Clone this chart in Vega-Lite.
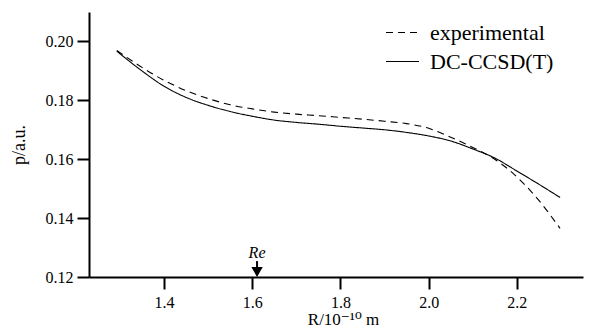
{
  "$schema": "https://vega.github.io/schema/vega-lite/v6.json",
  "width": 494,
  "height": 265,
  "autosize": "none",
  "padding": {"left": 89, "top": 12, "right": 22, "bottom": 56},
  "background": "white",
  "config": {
    "view": {"stroke": null},
    "font": "Liberation Serif, DejaVu Serif, serif",
    "axis": {
      "domainColor": "black", "domainWidth": 2, "tickColor": "black", "tickWidth": 2, "tickSize": 12,
      "labelColor": "black", "labelFont": "Liberation Serif, DejaVu Serif, serif", "labelFontSize": 16,
      "titleColor": "black", "titleFont": "Liberation Serif, DejaVu Serif, serif", "titleFontWeight": "normal", "titleFontSize": 18,
      "grid": false
    }
  },
  "datasets": {
    "curves": [
      {"R": 1.293, "p": 0.1967, "series": "DC-CCSD(T)"},
      {"R": 1.35, "p": 0.1900, "series": "DC-CCSD(T)"},
      {"R": 1.40, "p": 0.1848, "series": "DC-CCSD(T)"},
      {"R": 1.45, "p": 0.1810, "series": "DC-CCSD(T)"},
      {"R": 1.50, "p": 0.1783, "series": "DC-CCSD(T)"},
      {"R": 1.55, "p": 0.1762, "series": "DC-CCSD(T)"},
      {"R": 1.60, "p": 0.1746, "series": "DC-CCSD(T)"},
      {"R": 1.65, "p": 0.1733, "series": "DC-CCSD(T)"},
      {"R": 1.70, "p": 0.1725, "series": "DC-CCSD(T)"},
      {"R": 1.75, "p": 0.1719, "series": "DC-CCSD(T)"},
      {"R": 1.80, "p": 0.1712, "series": "DC-CCSD(T)"},
      {"R": 1.85, "p": 0.1706, "series": "DC-CCSD(T)"},
      {"R": 1.90, "p": 0.1700, "series": "DC-CCSD(T)"},
      {"R": 1.95, "p": 0.1691, "series": "DC-CCSD(T)"},
      {"R": 2.00, "p": 0.1679, "series": "DC-CCSD(T)"},
      {"R": 2.05, "p": 0.1662, "series": "DC-CCSD(T)"},
      {"R": 2.10, "p": 0.1635, "series": "DC-CCSD(T)"},
      {"R": 2.15, "p": 0.1604, "series": "DC-CCSD(T)"},
      {"R": 2.20, "p": 0.1560, "series": "DC-CCSD(T)"},
      {"R": 2.25, "p": 0.1515, "series": "DC-CCSD(T)"},
      {"R": 2.298, "p": 0.1470, "series": "DC-CCSD(T)"},
      {"R": 1.293, "p": 0.1969, "series": "experimental"},
      {"R": 1.35, "p": 0.1912, "series": "experimental"},
      {"R": 1.40, "p": 0.1868, "series": "experimental"},
      {"R": 1.45, "p": 0.1833, "series": "experimental"},
      {"R": 1.50, "p": 0.1806, "series": "experimental"},
      {"R": 1.55, "p": 0.1785, "series": "experimental"},
      {"R": 1.60, "p": 0.1771, "series": "experimental"},
      {"R": 1.65, "p": 0.1760, "series": "experimental"},
      {"R": 1.70, "p": 0.1753, "series": "experimental"},
      {"R": 1.75, "p": 0.1748, "series": "experimental"},
      {"R": 1.80, "p": 0.1742, "series": "experimental"},
      {"R": 1.85, "p": 0.1736, "series": "experimental"},
      {"R": 1.90, "p": 0.1729, "series": "experimental"},
      {"R": 1.95, "p": 0.1721, "series": "experimental"},
      {"R": 2.00, "p": 0.1705, "series": "experimental"},
      {"R": 2.05, "p": 0.1675, "series": "experimental"},
      {"R": 2.10, "p": 0.1640, "series": "experimental"},
      {"R": 2.15, "p": 0.1600, "series": "experimental"},
      {"R": 2.20, "p": 0.1540, "series": "experimental"},
      {"R": 2.25, "p": 0.1460, "series": "experimental"},
      {"R": 2.298, "p": 0.1365, "series": "experimental"}
    ],
    "marker": [
      {"R": 1.611, "top": 0.1254, "bottom": 0.1228, "head": 0.1217, "textY": 0.1263, "label": "Re"}
    ]
  },
  "layer": [
    {
      "data": {"name": "curves"},
      "mark": {"type": "line", "color": "black", "strokeWidth": 1.1, "interpolate": "monotone"},
      "encoding": {
        "x": {"field": "R", "type": "quantitative",
              "scale": {"domain": [1.23, 2.35], "nice": false, "zero": false},
              "axis": {"values": [1.4, 1.6, 1.8, 2.0, 2.2], "format": ".1f", "title": "R/10⁻¹⁰ m", "titleFontSize": 17, "labelPadding": 5, "titlePadding": 1, "titleX": 254}},
        "y": {"field": "p", "type": "quantitative",
              "scale": {"domain": [0.12, 0.21], "nice": false, "zero": false},
              "axis": {"values": [0.12, 0.14, 0.16, 0.18, 0.2], "format": ".2f", "title": "p/a.u.", "labelPadding": 4, "titlePadding": 17}},
        "strokeDash": {"field": "series", "type": "nominal",
              "scale": {"domain": ["experimental", "DC-CCSD(T)"], "range": [[7, 5], [1, 0]]},
              "legend": {"title": null, "orient": "none", "legendX": 296, "legendY": 3, "padding": 0,
                         "symbolType": "stroke", "symbolSize": 1089, "symbolStrokeColor": "black", "symbolStrokeWidth": 1.1,
                         "labelFont": "Liberation Serif, DejaVu Serif, serif", "labelFontSize": 22, "labelColor": "black", "labelOffset": 10, "rowPadding": -2}},
        "detail": {"field": "series"}
      }
    },
    {
      "data": {"name": "marker"},
      "mark": {"type": "rule", "color": "black", "strokeWidth": 2},
      "encoding": {
        "x": {"field": "R", "type": "quantitative"},
        "y": {"field": "top", "type": "quantitative"},
        "y2": {"field": "bottom"}
      }
    },
    {
      "data": {"name": "marker"},
      "mark": {"type": "point", "shape": "triangle-down", "filled": true, "color": "black", "size": 130, "opacity": 1},
      "encoding": {
        "x": {"field": "R", "type": "quantitative"},
        "y": {"field": "head", "type": "quantitative"}
      }
    },
    {
      "data": {"name": "marker"},
      "mark": {"type": "text", "font": "Liberation Serif, DejaVu Serif, serif", "fontStyle": "italic", "fontSize": 16, "baseline": "alphabetic", "color": "black"},
      "encoding": {
        "x": {"field": "R", "type": "quantitative"},
        "y": {"field": "textY", "type": "quantitative"},
        "text": {"field": "label"}
      }
    }
  ]
}
